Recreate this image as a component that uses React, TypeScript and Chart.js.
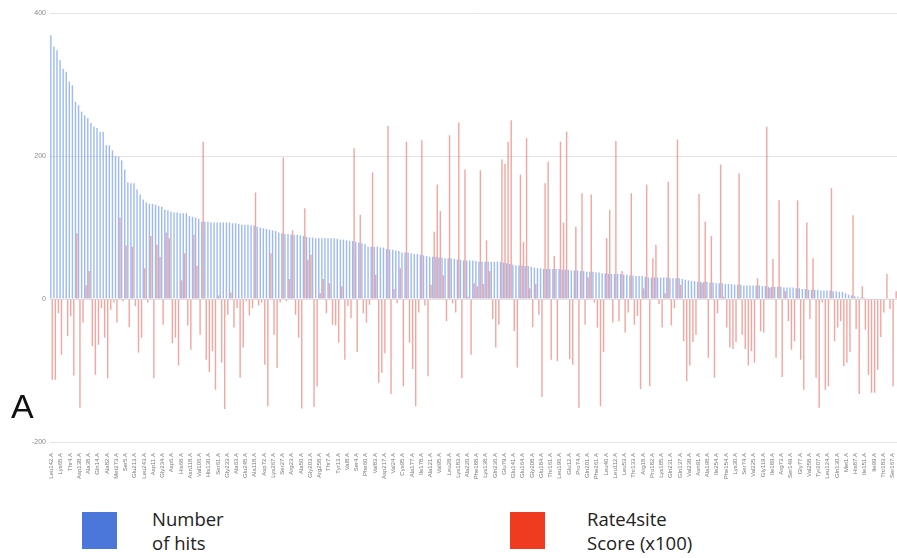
import React, { useEffect, useRef } from "react";
import { Chart, registerables } from "chart.js";

Chart.register(...registerables);

// Number of hits per residue (sorted descending)
const hits: number[] = [
  369, 353, 348, 334, 322, 318, 304, 299, 276, 271, 262, 257, 253, 246, 241, 239, 234, 234, 215, 215,
  208, 200, 199, 194, 181, 163, 162, 162, 153, 146, 139, 135, 133, 133, 132, 130, 129, 125, 124, 122,
  121, 121, 120, 120, 120,
  116, 115, 114, 112, 108, 108, 108, 107, 107, 107, 107, 107, 107, 107, 106, 106, 105, 104, 104, 104,
  103, 103, 101, 100, 99, 98, 97, 96, 95, 93, 92, 91, 91, 90, 90, 90, 89, 88, 87, 86,
  86, 85, 85, 85, 85, 85, 85,
  85, 84, 83, 83, 82, 81, 81, 80, 79, 78, 77, 73, 73, 73, 73, 72, 72, 70, 69, 69,
  68, 67, 65, 65, 65, 64, 63, 63, 62, 61, 60, 59, 59, 59, 58, 58, 57, 57, 57, 56,
  55, 55, 54, 54, 54, 54,
  53, 52, 52, 52, 52, 52, 52, 52, 52, 51, 50, 49, 48, 47, 47, 47, 46, 46, 45, 44,
  43, 43, 42, 42, 42, 42, 42, 42, 41, 41, 41, 40, 40, 40, 39, 39, 38, 38, 38, 37,
  37, 36, 36, 35, 35,
  35, 35, 35, 34, 34, 33, 33, 32, 32, 32, 31, 30, 30, 30, 30, 30, 30, 30, 29, 29,
  29, 29, 28, 27, 26, 25, 25, 24, 24, 24, 24, 23, 23, 22, 22, 22, 21, 21, 21, 20,
  20, 20, 19, 19, 19, 19, 19, 19,
  18, 18, 17, 17, 17, 17, 17, 16, 16, 16, 16, 15, 15, 14, 14, 13, 13, 13, 13, 12,
  12, 12, 12, 11, 11, 10, 10, 8, 6, 5, 4, 3, 2, 2, 1, 1, 1, 1, 1, 1,
  1, 1, 1, 1,
];

// Rate4site score (x100) per residue
const rate4site: number[] = [
  -113, -113, -20, -78, 1, -52, -24, -107, 92, -152, -33, 19, 39, -66, -106, -64, -13, -54, -111, -15,
  -5, -33, 114, -3, 75, -39, 73, -10, -75, -54, 43, -5, 88, -111, 76, 59, -36, 93, 85, -62,
  -54, -93, 26, 64, -37,
  -71, 90, 46, -50, 220, -85, -102, -73, -127, 5, -89, -154, -22, 9, -40, -13, -110, -68, -3, -23,
  -13, 149, -9, -5, -92, -150, 64, -50, -96, -5, 198, -3, 28, 96, -22, -54, -153, 127, 55, 62,
  -151, -122, 8, 28, -20, 22, -36,
  -37, -61, 18, -85, -10, -27, 211, -74, 118, -20, -33, -8, 177, 34, -117, -103, -76, 242, -133, 14,
  -6, 43, -122, 220, -61, -98, -150, -19, 222, -9, -108, 20, 94, 160, 123, 33, -31, 229, -6, -19,
  247, -111, 181, 3, -78, 22,
  18, 180, 21, 82, 39, -28, -68, -36, 195, 189, 220, 250, -45, -96, 174, 80, 225, 15, -39, 21,
  -22, -137, 162, 192, -85, 60, -87, 220, 107, 234, -84, -92, 101, -152, 148, -36, 30, 146, -5, -40,
  -150, -74, 85, 125, -33,
  221, -31, 39, -47, -19, 148, -36, -24, -126, 15, 160, -122, 57, 76, -7, -40, 8, 164, -37, -13,
  223, 20, -59, -115, -93, -60, -50, 147, 22, 108, -82, 88, -110, -20, 188, 3, -40, -68, -70, -60,
  176, -50, -70, -93, -73, -89, 29, -45,
  -47, 241, 15, 56, -82, 138, -109, 11, -31, -71, -59, 138, -85, -127, 107, -28, 57, -110, -152, -5,
  -127, -122, 155, -59, -40, -31, -94, -89, -74, 117, -42, -133, 18, -43, -106, -131, -131, -99, -53, -19,
  35, -14, -122, 11,
];

// Residue labels shown on the x axis (every third residue)
const tickLabels: string[] = [
  "Leu142.A", "Lys65.A", "Thr4.A", "Asp138.A", "Ala38.A", "Gln14.A", "Ala82.A", "Met273.A", "Ser5.A", "Glu213.A",
  "Leu243.A", "Asp11.A", "Gly234.A", "Asp6.A", "His68.A", "Asn118.A", "Val106.A", "His130.A", "Ser61.A", "Gly233.A",
  "Ala63.A", "Glu245.A", "Ala118.A", "Asp72.A", "Lys267.A", "Ser27.A", "Arg23.A", "Ala50.A", "Gly203.A", "Arg258.A",
  "Thr7.A", "Tyr13.A", "Val8.A", "Ser4.A", "Phe60.A", "Val83.A", "Asp217.A", "Val24.A", "Cys95.A", "Ala177.A",
  "Ile178.A", "Ala121.A", "Val95.A", "Leu28.A", "Lys183.A", "Ala220.A", "Phe188.A", "Lys138.A", "Gln236.A", "Glu79.A",
  "Glu141.A", "Glu164.A", "Gly208.A", "Glu184.A", "Thr161.A", "Leu196.A", "Glu12.A", "Pro74.A", "Gln201.A", "Phe261.A",
  "Leu40.A", "Leu112.A", "Leu53.A", "Thr133.A", "Arg18.A", "Pro182.A", "Lys185.A", "Gln231.A", "Gln137.A", "Val238.A",
  "Asn91.A", "Ala198.A", "Ile254.A", "Phe154.A", "Lys30.A", "Ser74.A", "Val225.A", "Gly119.A", "Ile189.A", "Arg73.A",
  "Ser149.A", "Gly77.A", "Val258.A", "Tyr207.A", "Leu124.A", "Gln130.A", "Met1.A", "His87.A", "Ile151.A", "Ile99.A",
  "Thr183.A", "Ser167.A",
];

const yTicks: number[] = [-200, 0, 200, 400];

const seriesNames: string[] = ["Number of hits", "Rate4site Score (x100)"];

export default function App() {
  const canvasRef = useRef<HTMLCanvasElement | null>(null);

  useEffect(() => {
    const canvas = canvasRef.current;
    if (!canvas) return;
    const categories = hits.map((_, i) => String(i));
    const chart = new Chart(canvas, {
      type: "bar",
      data: {
        labels: categories,
        datasets: [
          {
            label: seriesNames[0],
            data: hits,
            backgroundColor: "rgba(98,143,238,0.62)",
            borderWidth: 0,
            categoryPercentage: 0.92,
            barPercentage: 1,
          },
          {
            label: seriesNames[1],
            data: rate4site,
            backgroundColor: "rgba(232,84,70,0.52)",
            borderWidth: 0,
            categoryPercentage: 0.92,
            barPercentage: 1,
          },
        ],
      },
      options: {
        responsive: false,
        animation: false,
        maintainAspectRatio: false,
        layout: { padding: { left: 0, right: 0, top: 13, bottom: 0 } },
        plugins: {
          legend: { display: false },
          tooltip: { enabled: false },
        },
        scales: {
          x: {
            grid: { display: false },
            border: { display: false },
            ticks: {
              autoSkip: false,
              maxRotation: 90,
              minRotation: 90,
              padding: 3,
              color: "#777",
              font: { size: 6, family: "Arial, 'Liberation Sans', sans-serif" },
              callback: (_v: any, idx: number) => (idx % 3 === 0 ? tickLabels[idx / 3] ?? "" : ""),
            },
            afterFit: (s: any) => {
              s.height = 38;
              s.paddingRight = 0;
              s.paddingLeft = 0;
            },
          },
          y: {
            min: yTicks[0],
            max: yTicks[yTicks.length - 1],
            afterBuildTicks: (s: any) => {
              s.ticks = yTicks.map((v) => ({ value: v }));
            },
            grid: { color: "#e4e4e4", lineWidth: 1, drawTicks: false },
            border: { display: false },
            ticks: {
              color: "#888",
              padding: 4,
              font: { size: 7, family: "Arial, 'Liberation Sans', sans-serif" },
            },
            afterFit: (s: any) => {
              s.width = 50;
            },
          },
        },
      },
    });
    return () => chart.destroy();
  }, []);

  const legendText: React.CSSProperties = {
    position: "absolute",
    fontFamily: "'Open Sans', sans-serif",
    fontSize: 18.5,
    lineHeight: "24px",
    color: "#222",
  };

  return (
    <div
      style={{
        position: "fixed",
        left: 0,
        top: 0,
        width: 897,
        height: 558,
        background: "#fff",
        overflow: "hidden",
      }}
    >
      <canvas ref={canvasRef} width={897} height={480} style={{ position: "absolute", left: 0, top: 0 }} />
      <div
        style={{
          position: "absolute",
          left: 11,
          top: 386,
          fontFamily: "'Liberation Sans', Arial, sans-serif",
          fontSize: 34,
          lineHeight: "40px",
          color: "#111",
        }}
      >
        A
      </div>
      <div style={{ position: "absolute", left: 82, top: 512, width: 35, height: 37, background: "#4a77d9" }} />
      <div style={{ ...legendText, left: 152, top: 507 }}>
        Number
        <br />
        of hits
      </div>
      <div style={{ position: "absolute", left: 510, top: 512, width: 35, height: 37, background: "#ef3b1f" }} />
      <div style={{ ...legendText, left: 587, top: 507 }}>
        Rate4site
        <br />
        Score (x100)
      </div>
    </div>
  );
}
